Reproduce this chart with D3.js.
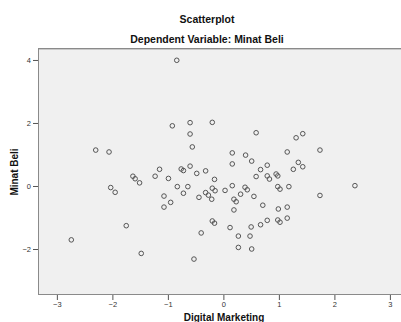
<!DOCTYPE html>
<html>
<head>
<meta charset="utf-8">
<script src="https://cdn.jsdelivr.net/npm/d3@7"></script>
<style>
  body { margin: 0; background: #fff; }
  text { font-family: "Liberation Sans", Arial, sans-serif; }
</style>
</head>
<body>
<svg id="chart" width="401" height="322"></svg>
<script>
// standardized predicted value (x) vs standardized residual (y)
const digitalMarketing = [
	-0.84, -0.92, -0.60, -0.20, -0.60, -0.56, -2.30, -2.06, 0.59, 1.31,
	1.43, 0.16, 0.40, 1.15, 1.74, -1.15, -1.23, -0.99, -0.76, -0.72,
	-0.60, -0.48, -0.32, -0.16, -1.63, -1.59, -1.51, -2.03, -1.95, -0.83,
	-0.64, -0.72, -1.07, -0.95, -1.07, -0.32, -0.27, -0.20, -0.15, -0.44,
	-0.21, -0.20, -0.16, -0.40, -1.75, -2.74, -1.48, -0.53, 0.51, 0.16,
	1.35, 1.43, 1.26, 0.79, 0.67, 0.59, 0.79, 0.83, 0.95, 0.98,
	2.37, 1.74, 0.03, 0.16, 0.31, 0.39, 0.43, 0.55, 0.19, 0.23,
	0.19, 0.71, 0.98, 1.02, 1.18, 0.99, 1.15, 0.12, 0.50, 0.67,
	0.79, 0.98, 1.02, 1.15, 0.27, 0.48, 0.27, 0.51
];
const minatBeli = [
	3.99, 1.91, 2.01, 2.02, 1.65, 1.24, 1.14, 1.08, 1.69, 1.53,
	1.66, 1.05, 0.98, 1.08, 1.14, 0.53, 0.31, 0.24, 0.54, 0.49,
	0.63, 0.40, 0.48, 0.21, 0.31, 0.23, 0.10, -0.05, -0.20, -0.02,
	-0.02, -0.23, -0.32, -0.52, -0.67, -0.21, -0.29, -0.07, -0.15, -0.36,
	-0.42, -1.11, -1.18, -1.49, -1.26, -1.71, -2.14, -2.32, 0.79, 0.70,
	0.75, 0.61, 0.53, 0.66, 0.52, 0.30, 0.32, 0.22, 0.38, 0.32,
	0.01, -0.30, -0.14, 0.01, -0.26, -0.04, -0.12, -0.33, -0.42, -0.50,
	-0.76, -0.61, -0.02, -0.10, -0.02, -0.73, -0.67, -1.32, -1.30, -1.23,
	-1.09, -1.08, -1.15, -1.02, -1.59, -1.59, -1.95, -2.00
];
const xTicks = [-3, -2, -1, 0, 1, 2, 3];
const yTicks = [-2, 0, 2, 4];

const svg = d3.select('#chart');

const x = d3.scaleLinear().domain([-3.34, 3.2]).range([38, 401]);
const y = d3.scaleLinear().domain([-3.46, 4.38]).range([295, 48]);

// plot frame
svg.append('rect')
	.attr('x', 38.5).attr('y', 48.5)
	.attr('width', 370).attr('height', 246)
	.attr('fill', '#f0f0f0')
	.attr('stroke', '#8a8a8a')
	.attr('stroke-width', 1);
svg.append('line')
	.attr('x1', 39).attr('x2', 401).attr('y1', 49.5).attr('y2', 49.5)
	.attr('stroke', '#c8c8c8');

// titles
svg.append('text')
	.attr('x', 207).attr('y', 23)
	.attr('text-anchor', 'middle')
	.attr('font-size', 10.5).attr('font-weight', 'bold')
	.attr('fill', '#111')
	.text('Scatterplot');
svg.append('text')
	.attr('x', 207).attr('y', 43)
	.attr('text-anchor', 'middle')
	.attr('font-size', 10.5).attr('font-weight', 'bold')
	.attr('fill', '#111')
	.text('Dependent Variable: Minat Beli');

// axes
const fmt = d3.format('d');
const xAxis = svg.append('g')
	.attr('transform', 'translate(0,295)')
	.call(d3.axisBottom(x).tickValues(xTicks).tickFormat(fmt).tickSize(5).tickSizeOuter(0).tickPadding(2));
const yAxis = svg.append('g')
	.attr('transform', 'translate(38,0)')
	.call(d3.axisLeft(y).tickValues(yTicks).tickFormat(fmt).tickSize(5).tickSizeOuter(0).tickPadding(2));
[xAxis, yAxis].forEach(a => {
	a.select('.domain').remove();
	a.selectAll('line').attr('stroke', '#555');
	a.selectAll('text')
		.attr('font-size', 7.5)
		.attr('fill', '#333')
		.style('font-family', '"Liberation Sans", Arial, sans-serif');
});

svg.append('text')
	.attr('x', 224).attr('y', 321)
	.attr('text-anchor', 'middle')
	.attr('font-size', 10).attr('font-weight', 'bold')
	.attr('fill', '#111')
	.text('Digital Marketing');
svg.append('text')
	.attr('transform', 'translate(18,172) rotate(-90)')
	.attr('text-anchor', 'middle')
	.attr('font-size', 10).attr('font-weight', 'bold')
	.attr('fill', '#111')
	.text('Minat Beli');

// points
svg.append('g')
	.selectAll('circle')
	.data(d3.zip(digitalMarketing, minatBeli))
	.enter().append('circle')
		.attr('cx', d => x(d[0]))
		.attr('cy', d => y(d[1]))
		.attr('r', 2.3)
		.attr('fill', 'none')
		.attr('stroke', '#555')
		.attr('stroke-width', 1);
</script>
</body>
</html>
